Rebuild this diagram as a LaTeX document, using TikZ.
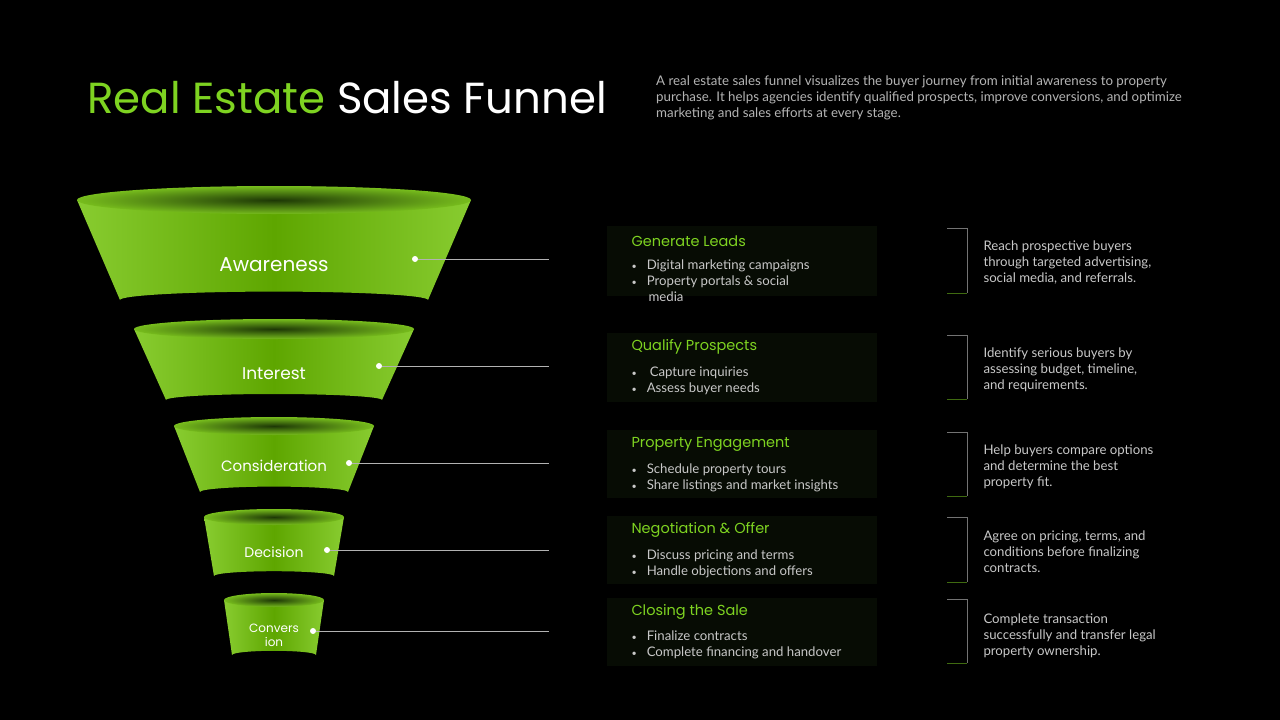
\documentclass[tikz,border=0pt]{standalone}
\usepackage{fontspec}
\setmainfont{Lato}
\newfontfamily\pop{Poppins}
\definecolor{lime}{HTML}{7ED321}
\definecolor{gbody}{HTML}{5EA600}
\definecolor{gedge}{HTML}{88CC30}
\definecolor{gtop}{HTML}{2A5008}
\definecolor{txt}{HTML}{C8C8C8}
\definecolor{card}{HTML}{070C04}
\begin{document}
\begin{tikzpicture}[x=1pt,y=-1pt,
  seg/.style={left color=gedge,right color=gedge,middle color=gbody},
  lid/.style={inner color=gtop!70!black,outer color=gedge!60!gbody},
  flab/.style={text=white,align=center},
  dot/.style={circle,fill=white,inner sep=0,minimum size=6pt},
  con/.style={draw=white!70!black,line width=0.6pt},
  head/.style={font=\pop\fontsize{14.5}{16}\selectfont,text=lime,anchor=west},
  body/.style={font=\fontsize{13.2}{16}\selectfont,text=txt,anchor=north west,align=left},
  brk/.style={draw=white!45!black,line width=0.8pt}]
\fill[black] (0,0) rectangle (1280,720);
\useasboundingbox (0,0) rectangle (1280,720);
% title
\node[anchor=west,font=\pop\fontsize{43.5}{46}\selectfont,inner sep=0] (title) at (87,98) {\color{lime}Real Estate \color{white}Sales Funnel};
\node[anchor=north west,align=left,font=\fontsize{13.3}{16}\selectfont,text=txt!90!black,inner sep=0] (intro) at (656,76) {A real estate sales funnel visualizes the buyer journey from initial awareness to property\\purchase. It helps agencies identify qualified prospects, improve conversions, and optimize\\marketing and sales efforts at every stage.};
% funnel segments
\foreach \ty/\tw/\by/\bw/\r in {200/197/300/154/14, 329/140/400/108/10, 426/100/492/74/9, 517/70/576/60/8, 600/50/655/42/7}{
  \shade[seg] (274-\tw,\ty) -- (274-\bw,\by) arc[start angle=180,end angle=360,x radius=\bw,y radius=\r*0.6] -- (274+\tw,\ty) -- cycle;
  \shade[lid] (274,\ty) ellipse[x radius=\tw,y radius=\r];
}
\node[flab,font=\pop\fontsize{20}{22}\selectfont] (l1) at (274,265) {Awareness};
\node[flab,font=\pop\fontsize{17}{20}\selectfont] (l2) at (274,374) {Interest};
\node[flab,font=\pop\fontsize{15}{18}\selectfont] (l3) at (274,466) {Consideration};
\node[flab,font=\pop\fontsize{14}{16}\selectfont] (l4) at (274,552) {Decision};
\node[flab,font=\pop\fontsize{12}{14}\selectfont] (l5) at (274,635) {Convers\\ion};
% dots and connectors
\foreach \i/\x/\y in {1/415/259,2/379/366,3/349/463,4/327/550,5/313/631}{
  \node[dot] (d\i) at (\x,\y) {};
  \coordinate (e\i) at (549,\y);
  \draw[con] (d\i) -- (e\i);
}
% cards
\foreach \ty/\by in {226/296, 333/402, 430/498, 516/584, 598/666}{
  \fill[card] (607,\ty) rectangle (877,\by);
}
\foreach \ty/\by in {228/293, 335/399, 432/496, 517/582, 599/663}{
  \draw[brk] (947,\ty) -- (967,\ty) -- (967,\by);
  \draw[draw=lime!50!black,line width=0.8pt] (947,\by) -- (967,\by);
}
\node[head] (h1) at (628,241) {Generate Leads};
\node[body] (b1) at (628,256) {{\small\textbullet}\hspace{10pt}Digital marketing campaigns\\{\small\textbullet}\hspace{10pt}Property portals \& social\\\hspace*{17pt}media};
\node[head] (h2) at (628,347) {Qualify Prospects};
\node[body] (b2) at (628,363) {{\small\textbullet}\hspace{13pt}Capture inquiries\\{\small\textbullet}\hspace{10pt}Assess buyer needs};
\node[head] (h3) at (628,444) {Property Engagement};
\node[body] (b3) at (628,460) {{\small\textbullet}\hspace{10pt}Schedule property tours\\{\small\textbullet}\hspace{10pt}Share listings and market insights};
\node[head] (h4) at (628,530) {Negotiation \& Offer};
\node[body] (b4) at (628,546) {{\small\textbullet}\hspace{10pt}Discuss pricing and terms\\{\small\textbullet}\hspace{10pt}Handle objections and offers};
\node[head] (h5) at (628,612) {Closing the Sale};
\node[body] (b5) at (628,627) {{\small\textbullet}\hspace{10pt}Finalize contracts\\{\small\textbullet}\hspace{10pt}Complete financing and handover};
% right descriptions
\node[body] (r1) at (980,237) {Reach prospective buyers\\through targeted advertising,\\social media, and referrals.};
\node[body] (r2) at (980,344) {Identify serious buyers by\\assessing budget, timeline,\\and requirements.};
\node[body] (r3) at (980,441) {Help buyers compare options\\and determine the best\\property fit.};
\node[body] (r4) at (980,527) {Agree on pricing, terms, and\\conditions before finalizing\\contracts.};
\node[body] (r5) at (980,610) {Complete transaction\\successfully and transfer legal\\property ownership.};
\end{tikzpicture}
\end{document}
